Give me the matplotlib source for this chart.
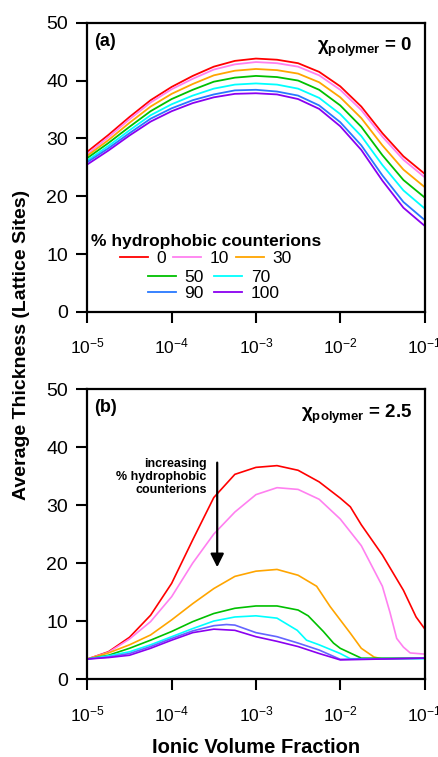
import numpy as np
import matplotlib
matplotlib.use('Agg')
import matplotlib.pyplot as plt

plt.rcParams['font.family'] = ['Liberation Sans', 'DejaVu Sans']
plt.rcParams['mathtext.fontset'] = 'custom'
plt.rcParams['mathtext.rm'] = 'Liberation Sans'
plt.rcParams['mathtext.bf'] = 'Liberation Sans:bold'

# % hydrophobic counterions
labels = ['0', '10', '30', '50', '70', '90', '100']
colors = ['#ff0000', '#ff80f0', '#ffa500', '#00c000', '#00ffff', '#2878ff', '#8a00f0']

# (a) chi_polymer = 0, log10 of ionic volume fraction
logx_a = [-5, -4.75, -4.5, -4.25, -4, -3.75, -3.5, -3.25, -3, -2.75, -2.5, -2.25, -2,
          -1.75, -1.5, -1.25, -1]
thick_a = [
    [27.7, 30.6, 33.7, 36.6, 38.9, 40.8, 42.4, 43.4, 43.8, 43.6, 43.0, 41.5, 39.0, 35.5, 30.9, 26.9, 23.9],
    [27.3, 30.2, 33.3, 36.2, 38.5, 40.3, 41.9, 42.8, 43.2, 43.0, 42.4, 40.9, 38.4, 34.9, 30.3, 26.3, 23.3],
    [27.0, 29.7, 32.7, 35.5, 37.7, 39.4, 40.9, 41.7, 42.0, 41.8, 41.2, 39.7, 37.1, 33.5, 28.8, 24.6, 21.6],
    [26.6, 29.2, 32.0, 34.7, 36.8, 38.4, 39.8, 40.5, 40.8, 40.6, 40.0, 38.4, 35.7, 32.0, 27.1, 22.8, 19.8],
    [26.2, 28.7, 31.4, 34.0, 35.9, 37.4, 38.6, 39.3, 39.5, 39.3, 38.6, 37.0, 34.2, 30.4, 25.4, 21.0, 17.9],
    [25.9, 28.3, 30.9, 33.4, 35.2, 36.6, 37.6, 38.3, 38.4, 38.1, 37.4, 35.7, 32.8, 28.8, 23.6, 19.0, 15.9],
    [25.5, 27.9, 30.5, 32.9, 34.7, 36.1, 37.1, 37.7, 37.8, 37.6, 36.8, 35.1, 32.1, 28.0, 22.7, 18.0, 14.9],
]

# (b) chi_polymer = 2.5
logx_b = [
    [-5, -4.75, -4.5, -4.25, -4, -3.75, -3.5, -3.25, -3, -2.75, -2.5, -2.25, -2, -1.88, -1.75, -1.5, -1.25, -1.1, -1],
    [-5, -4.75, -4.5, -4.25, -4, -3.75, -3.5, -3.25, -3, -2.75, -2.5, -2.25, -2, -1.75, -1.5, -1.41, -1.33, -1.25, -1.17, -1],
    [-5, -4.75, -4.5, -4.25, -4, -3.75, -3.5, -3.25, -3, -2.75, -2.5, -2.28, -2.12, -1.88, -1.75, -1.6, -1.5, -1],
    [-5, -4.75, -4.5, -4.25, -4, -3.75, -3.5, -3.25, -3, -2.75, -2.5, -2.38, -2.2, -2.08, -2, -1.75, -1],
    [-5, -4.75, -4.5, -4.25, -4, -3.75, -3.5, -3.25, -3, -2.75, -2.51, -2.4, -2.25, -2, -1.88, -1],
    [-5, -4.75, -4.5, -4.25, -4, -3.75, -3.5, -3.35, -3.25, -3, -2.75, -2.5, -2.25, -2, -1],
    [-5, -4.75, -4.5, -4.25, -4, -3.75, -3.5, -3.25, -3, -2.75, -2.5, -2.25, -2, -1],
]
thick_b = [
    [3.45, 4.7, 7.2, 11.0, 16.5, 24.0, 31.3, 35.3, 36.5, 36.8, 36.0, 34.0, 31.2, 29.7, 26.6, 21.4, 15.3, 10.7, 8.7],
    [3.45, 4.6, 6.9, 9.9, 14.2, 20.0, 25.0, 28.8, 31.8, 33.0, 32.7, 31.0, 27.6, 23.0, 16.0, 11.5, 7.0, 5.5, 4.5, 4.3],
    [3.45, 4.5, 5.9, 7.6, 10.2, 13.0, 15.6, 17.7, 18.6, 18.9, 17.9, 16.0, 12.5, 7.9, 5.3, 3.8, 3.45, 3.6],
    [3.45, 4.1, 5.3, 6.7, 8.2, 9.9, 11.3, 12.2, 12.6, 12.6, 11.9, 10.9, 8.2, 6.2, 5.3, 3.6, 3.6],
    [3.45, 4.0, 4.7, 5.9, 7.3, 8.7, 10.0, 10.7, 10.9, 10.5, 8.4, 6.7, 5.9, 4.4, 3.5, 3.5],
    [3.45, 3.8, 4.4, 5.6, 7.0, 8.3, 9.2, 9.4, 9.3, 8.0, 7.3, 6.2, 5.0, 3.4, 3.6],
    [3.45, 3.7, 4.1, 5.3, 6.7, 8.0, 8.6, 8.4, 7.3, 6.5, 5.6, 4.4, 3.3, 3.6],
]
colors_b = ['#ff0000', '#ff80f0', '#ffa500', '#00c000', '#00ffff', '#6464ff', '#8a00f0']

fig = plt.figure(figsize=(4.39, 7.57), dpi=100)
ax1 = fig.add_axes([0.199, 0.588, 0.768, 0.382])
ax2 = fig.add_axes([0.199, 0.103, 0.768, 0.383])

for lab, c, y in zip(labels, colors, thick_a):
    ax1.plot(10.0 ** np.array(logx_a), y, color=c, lw=1.3, label=lab)
for lab, c, lx, y in zip(labels, colors_b, logx_b, thick_b):
    ax2.plot(10.0 ** np.array(lx), y, color=c, lw=1.2, label=lab)

for ax in (ax1, ax2):
    ax.set_xscale('log')
    ax.set_xlim(1e-5, 1e-1)
    ax.set_ylim(0, 50)
    ax.set_xticks([1e-5, 1e-4, 1e-3, 1e-2, 1e-1])
    ax.set_yticks([0, 10, 20, 30, 40, 50])
    ax.xaxis.set_minor_locator(matplotlib.ticker.NullLocator())
    ax.tick_params(axis='both', direction='out', length=8, width=1.5)
    ax.tick_params(axis='x', pad=10, labelsize=12.5)
    ax.tick_params(axis='y', pad=6, labelsize=14)
    for s in ax.spines.values():
        s.set_linewidth(1.6)

# panel labels
ax1.text(0.02, 0.965, '(a)', transform=ax1.transAxes, fontsize=13, fontweight='bold', va='top', ha='left')
ax1.text(0.965, 0.955, r'χ$_{\mathbf{polymer}}$ = 0', transform=ax1.transAxes, fontsize=13.5,
         fontweight='bold', va='top', ha='right')
ax2.text(0.02, 0.965, '(b)', transform=ax2.transAxes, fontsize=13, fontweight='bold', va='top', ha='left')
ax2.text(0.965, 0.955, r'χ$_{\mathbf{polymer}}$ = 2.5', transform=ax2.transAxes, fontsize=13.5,
         fontweight='bold', va='top', ha='right')

# legend: first row 3 entries, then two rows of 2
h = ax1.get_lines()
leg1 = ax1.legend(h[:3], labels[:3], ncol=3, loc='upper left', bbox_to_anchor=(0.0, 0.28),
                  title='% hydrophobic counterions', title_fontproperties={'weight': 'bold', 'size': 12.5},
                  frameon=False, fontsize=12.5, handlelength=1.6, handletextpad=0.5, columnspacing=0.4,
                  borderaxespad=0, borderpad=0.2, labelspacing=0.1)
ax1.add_artist(leg1)
ax1.legend([h[3], h[5], h[4], h[6]], [labels[3], labels[5], labels[4], labels[6]], ncol=2,
           loc='upper left', bbox_to_anchor=(0.18, 0.145), frameon=False, fontsize=12.5,
           handlelength=1.6, handletextpad=0.5, columnspacing=0.6, borderaxespad=0, borderpad=0,
           labelspacing=0.05)

# arrow annotation
ax2.annotate('', xy=(3.47e-4, 18.8), xytext=(3.47e-4, 37.8),
             arrowprops=dict(arrowstyle='-|>', color='black', lw=1.6, mutation_scale=20))
ax2.text(2.6e-4, 38.2, 'increasing\n% hydrophobic\ncounterions', fontsize=9, fontweight='bold',
         ha='right', va='top', linespacing=1.15)

fig.text(0.05, 0.544, 'Average Thickness (Lattice Sites)', rotation=90, fontsize=14,
         fontweight='bold', ha='center', va='center')
fig.text(0.583, 0.012, 'Ionic Volume Fraction', fontsize=14.5, fontweight='bold', ha='center', va='center')

fig.savefig('out.png', dpi=100)
